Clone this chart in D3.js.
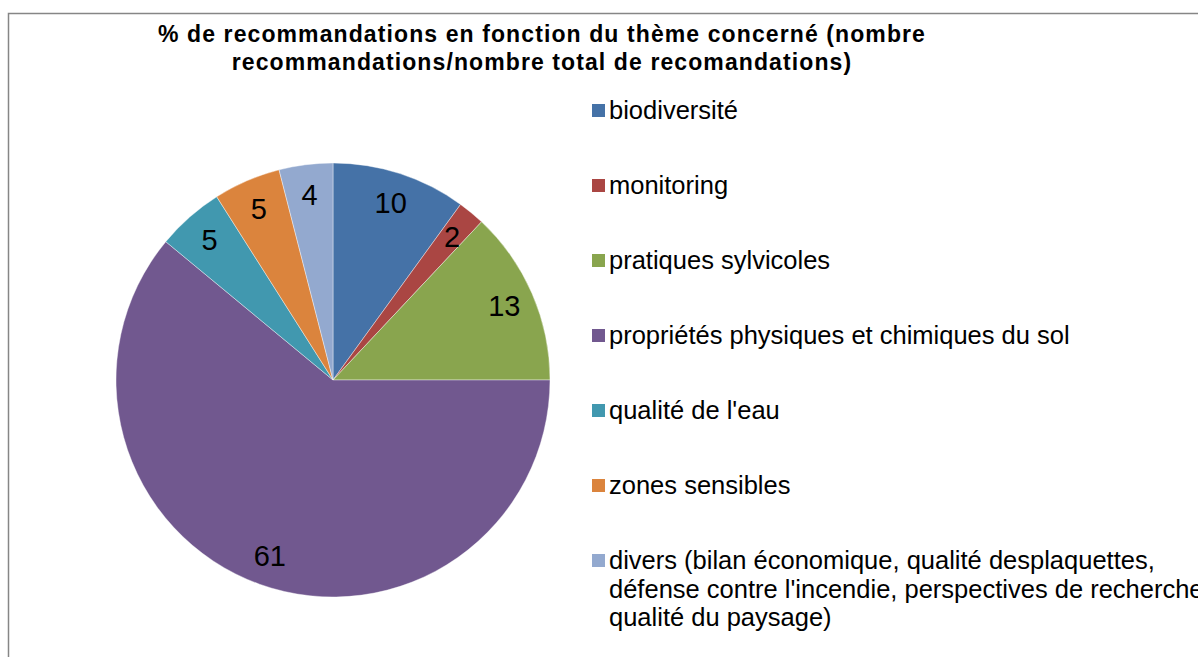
<!DOCTYPE html>
<html>
<head>
<meta charset="utf-8">
<script src="https://cdn.jsdelivr.net/npm/d3@7"></script>
<style>
  html, body { margin: 0; padding: 0; background: #fff; overflow: hidden; }
  svg { display: block; font-family: Arial, "Liberation Sans", sans-serif; }
</style>
</head>
<body>
<svg id="chart" width="1198" height="657"></svg>
<script>
// Thèmes et nombres de recommandations (%)
const categories = [
  "biodiversité",
  "monitoring",
  "pratiques sylvicoles",
  "propriétés physiques et chimiques du sol",
  "qualité de l'eau",
  "zones sensibles",
  "divers (bilan économique, qualité desplaquettes, défense contre l'incendie, perspectives de recherche, qualité du paysage)"
];
const values = [10, 2, 13, 61, 5, 5, 4];
const colors = ["#4572A7", "#AA4643", "#89A54E", "#71588F", "#4198AF", "#DB843D", "#93A9CF"];
// Lignes du libellé de légende, pour les libellés longs
const legendLines = [
  ["biodiversité"],
  ["monitoring"],
  ["pratiques sylvicoles"],
  ["propriétés physiques et chimiques du sol"],
  ["qualité de l'eau"],
  ["zones sensibles"],
  ["divers (bilan économique, qualité desplaquettes,",
   "défense contre l'incendie, perspectives de recherche,",
   "qualité du paysage)"]
];
const titleLines = [
  "% de recommandations en fonction du thème concerné (nombre",
  "recommandations/nombre total de recomandations)"
];

const svg = d3.select("#chart");

// Cadre de la zone de graphique
svg.append("rect")
  .attr("x", 8.5).attr("y", 13.5)
  .attr("width", 1300).attr("height", 800)
  .attr("fill", "#fff")
  .attr("stroke", "#868686")
  .attr("stroke-width", 1.5);

// Titre
svg.append("g").selectAll("text")
  .data(titleLines)
  .join("text")
  .attr("x", 542)
  .attr("y", (d, i) => 42 + i * 28)
  .attr("text-anchor", "middle")
  .attr("font-size", 23)
  .attr("letter-spacing", 1.1)
  .attr("font-weight", "bold")
  .attr("fill", "#000")
  .text(d => d);

// Camembert
const cx = 333, cy = 380, R = 217;
const pie = d3.pie().sort(null).value(d => d)(values);
const arc = d3.arc().innerRadius(0).outerRadius(R);
const labelArc = d3.arc().innerRadius(R * 0.86).outerRadius(R * 0.86);
const color = d3.scaleOrdinal().domain(d3.range(values.length)).range(colors);

const g = svg.append("g").attr("transform", `translate(${cx},${cy})`);
g.selectAll("path")
  .data(pie)
  .join("path")
  .attr("d", arc)
  .attr("fill", (d, i) => color(i))
  .attr("stroke", "#fff")
  .attr("stroke-width", 0.4);

g.selectAll("text")
  .data(pie)
  .join("text")
  .attr("transform", d => `translate(${labelArc.centroid(d)})`)
  .attr("text-anchor", "middle")
  .attr("dy", "0.36em")
  .attr("font-size", 29)
  .attr("fill", "#000")
  .text(d => d.data);

// Légende
const legendY = d3.scalePoint()
  .domain(d3.range(categories.length))
  .range([111, 561]);

const lg = svg.append("g").selectAll("g")
  .data(categories)
  .join("g")
  .attr("transform", (d, i) => `translate(592,${legendY(i)})`);

lg.append("rect")
  .attr("x", 0).attr("y", -7)
  .attr("width", 13).attr("height", 13)
  .attr("fill", (d, i) => color(i));

lg.append("text")
  .attr("x", 17)
  .attr("y", 8)
  .attr("font-size", 25.5)
  .attr("fill", "#000")
  .selectAll("tspan")
  .data((d, i) => legendLines[i])
  .join("tspan")
  .attr("x", 17)
  .attr("dy", (d, j) => j === 0 ? 0 : 28.5)
  .text(d => d);
</script>
</body>
</html>
